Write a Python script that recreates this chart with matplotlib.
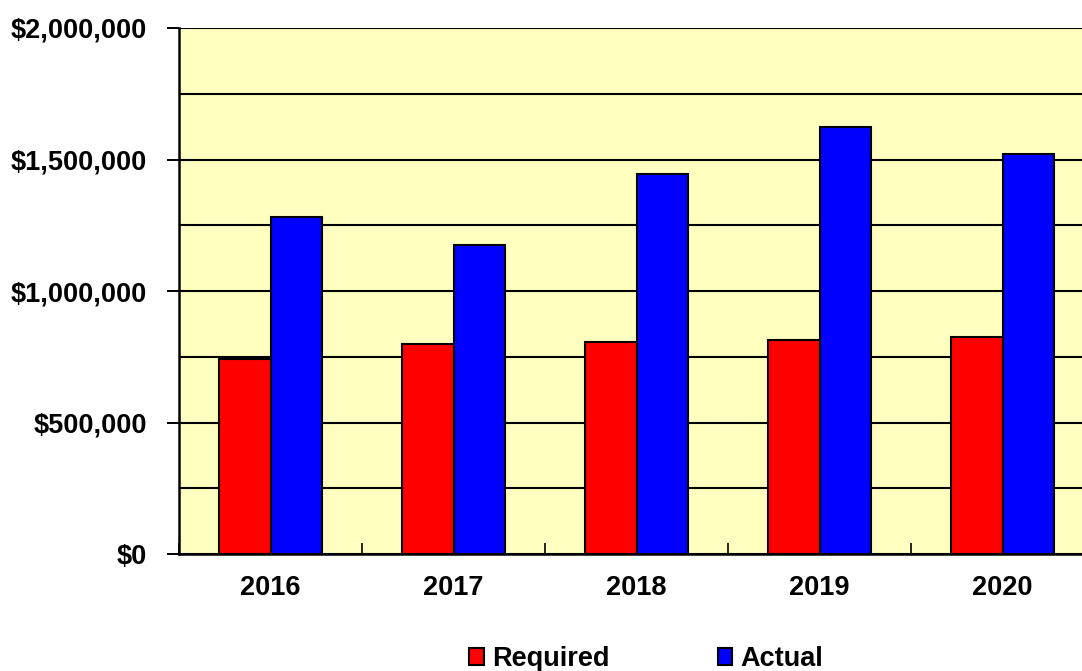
import numpy as np
import matplotlib.pyplot as plt
from matplotlib.ticker import MultipleLocator, FuncFormatter

years = ["2016", "2017", "2018", "2019", "2020"]
required = [740000, 800000, 805000, 812000, 825000]
actual = [1280000, 1175000, 1445000, 1625000, 1520000]

plt.rcParams['font.family'] = ['Liberation Sans', 'DejaVu Sans']
plt.rcParams['font.weight'] = 'bold'

fig = plt.figure(figsize=(10.82, 6.71), dpi=100)
# el eje se sale un poco por la derecha, como en la hoja original
ax = fig.add_axes([179 / 1082, 117 / 671, 915 / 1082, 526 / 671])
ax.set_facecolor('#FFFFC0')

x = np.arange(len(years))
w = 0.284
ax.bar(x - w / 2, required, width=w, color='#FF0000', edgecolor='black',
       linewidth=1.5, label='Required', zorder=3)
ax.bar(x + w / 2, actual, width=w, color='#0000FF', edgecolor='black',
       linewidth=1.5, label='Actual', zorder=3)

ax.set_xlim(-0.5, len(years) - 0.5)
ax.set_ylim(0, 2000000)

# rejilla cada 250.000, etiquetas cada 500.000
ax.yaxis.set_major_locator(MultipleLocator(500000))
ax.yaxis.set_minor_locator(MultipleLocator(250000))
ax.yaxis.set_major_formatter(FuncFormatter(lambda v, p: "${:,.0f}".format(v)))
ax.grid(axis='y', which='both', color='black', linewidth=1.5, zorder=1)
ax.set_axisbelow(True)

ax.set_xticks(x)
ax.set_xticklabels(years)
ax.set_xticks(np.arange(len(years) + 1) - 0.5, minor=True)

ax.tick_params(axis='y', which='major', direction='out', length=9, width=1.4,
               pad=14, labelsize=19.5)
ax.tick_params(axis='y', which='minor', length=0)
ax.tick_params(axis='x', which='major', length=0, pad=15, labelsize=19.5)
ax.tick_params(axis='x', which='minor', direction='in', length=8, width=1.2)

for s in ['top', 'right']:
    ax.spines[s].set_visible(False)
for s in ['left', 'bottom']:
    ax.spines[s].set_linewidth(1.8)
    ax.spines[s].set_zorder(4)

fig.legend(loc='center', bbox_to_anchor=(646 / 1082, 12 / 671), ncol=2,
           frameon=False, fontsize=19.5, handlelength=0.55, handleheight=0.55,
           handletextpad=0.3, columnspacing=4.0)

fig.savefig('out.png', dpi=100)
